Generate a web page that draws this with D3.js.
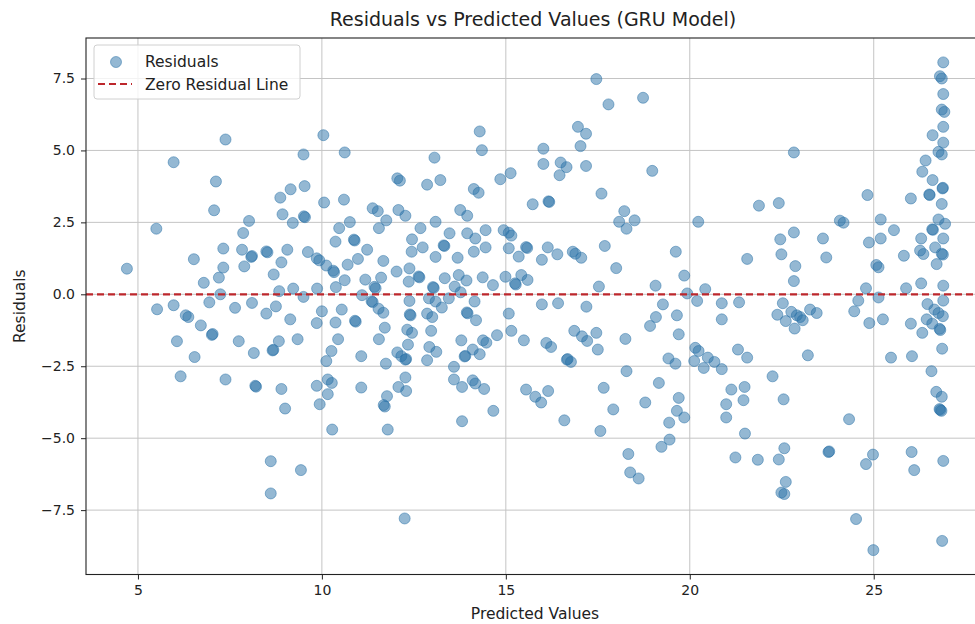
<!DOCTYPE html>
<html>
<head>
<meta charset="utf-8">
<script src="https://cdn.jsdelivr.net/npm/d3@7"></script>
<style>
  body { margin: 0; background: #fff; }
  svg { display: block; font-family: "DejaVu Sans", sans-serif; }
</style>
</head>
<body>
<svg id="chart"></svg>
<script>
// predicted values (x) and residuals (y)
const predicted = [
  4.70,5.50,5.97,7.38,7.12,7.07,6.52,7.32,7.32,7.20,6.79,7.24,8.02,7.86,7.83,8.08,8.10,7.89,8.49,8.52,
  9.06,8.90,8.69,8.84,9.22,8.87,8.93,9.15,9.21,9.50,9.53,9.51,9.54,10.04,10.62,10.06,10.60,10.76,10.47,10.37,
  10.87,10.89,11.23,10.98,10.70,9.62,9.86,9.93,10.12,10.31,10.33,10.62,10.38,9.87,9.50,11.18,11.43,11.46,11.61,11.67,
  11.55,11.38,11.52,11.75,11.09,
  5.52,5.97,6.30,6.37,6.71,6.94,7.01,7.03,6.06,6.54,6.16,7.64,8.10,7.74,8.15,7.38,8.19,8.21,8.49,8.75,
  9.14,8.83,8.66,8.68,9.34,8.90,9.00,8.61,9.43,8.61,10.00,9.86,10.37,10.54,10.44,10.26,10.12,10.90,10.92,11.07,
  9.86,10.16,10.27,10.16,9.94,10.28,11.07,11.35,11.38,11.54,11.67,11.71,11.55,11.74,11.68,11.71,11.77,11.79,
  17.46,17.79,18.73,16.96,17.18,17.03,14.29,14.35,13.06,16.02,16.02,16.49,16.65,16.46,17.18,18.98,15.13,14.85,12.05,12.12,
  12.86,13.22,14.13,14.26,17.60,15.73,16.16,16.18,18.22,18.08,18.50,18.28,12.08,12.27,13.09,13.76,13.95,12.68,12.45,12.74,
  12.44,13.09,13.31,13.33,13.47,13.95,14.17,14.45,14.45,14.13,13.69,14.94,15.08,15.15,15.08,15.35,15.55,15.58,16.14,15.98,
  16.40,16.82,16.89,17.05,17.69,18.00,19.62,19.85,19.07,17.53,12.03,12.38,12.63,12.65,12.36,13.02,13.04,13.34,13.72,13.93,
  13.61,13.77,14.37,14.65,14.99,15.25,15.27,15.42,15.59,12.91,13.09,13.45,12.38,14.15,15.98,16.42,17.19,19.27,
  13.26,12.39,12.41,12.86,13.00,13.94,13.96,14.19,15.08,15.15,15.49,12.32,12.45,12.97,12.34,12.92,13.11,12.05,12.16,12.27,
  12.29,12.86,13.79,13.88,13.90,14.10,14.29,14.38,14.47,14.76,13.59,13.59,13.81,14.10,14.17,14.41,14.66,13.81,12.27,12.08,
  12.29,12.25,15.55,15.80,15.96,16.15,16.59,16.10,16.23,16.66,16.68,16.77,16.86,17.07,17.21,17.46,17.50,17.66,17.92,17.57,
  18.25,18.28,18.79,19.16,18.33,18.38,18.61,18.92,19.08,19.65,19.70,19.42,19.61,19.70,19.65,19.44,19.45,19.23,19.85,
  20.23,19.93,20.42,20.20,20.87,21.34,21.56,21.88,22.42,22.83,22.46,22.83,22.49,22.87,22.83,22.53,23.62,23.71,24.08,24.18,
  24.83,24.87,24.79,24.58,25.19,25.19,25.55,25.07,25.13,25.13,25.82,25.88,26.01,26.29,26.26,26.35,26.29,26.46,
  26.89,26.80,26.85,26.89,26.85,26.92,26.89,26.60,26.89,26.76,26.85,26.41,26.32,26.60,26.87,26.88,26.51,26.52,26.85,26.76,
  26.94,26.59,26.61,26.89,26.67,26.85,26.88,26.71,26.89,26.89,
  20.87,22.38,22.76,22.91,23.00,23.07,22.61,22.85,23.27,23.45,23.21,24.47,24.88,25.25,26.01,26.65,26.76,26.88,26.44,26.59,
  26.79,26.81,26.32,26.86,25.47,26.04,26.57,26.70,26.85,26.79,26.81,26.84,20.15,20.24,20.12,20.38,20.49,20.67,20.87,21.31,
  21.56,22.25,21.13,21.49,21.46,20.99,20.99,22.55,21.50,24.33,21.24,21.85,22.42,22.57,23.77,23.79,22.61,22.49,22.57,24.98,
  24.79,24.52,24.99,26.03,26.10,26.89,26.86
];
const residuals = [
  0.89,2.28,4.59,5.38,3.92,2.92,1.22,1.59,0.93,0.58,0.40,0.00,2.55,2.13,1.55,1.30,1.33,0.97,1.49,1.46,
  1.55,1.11,0.69,0.11,0.20,3.36,2.78,3.65,2.48,4.86,3.76,2.71,2.68,5.53,4.93,3.19,3.29,2.51,2.30,1.83,
  1.90,1.87,1.55,1.23,1.03,1.47,1.25,1.18,1.00,0.82,0.77,0.49,0.25,0.20,-0.09,0.51,0.26,0.21,0.58,1.16,
  2.30,2.99,2.89,2.57,-0.03,
  -0.52,-0.38,-0.73,-0.79,-1.08,-0.28,-1.41,-1.38,-1.63,-2.18,-2.85,-0.47,-0.30,-1.63,-2.04,-2.96,-3.18,-3.21,-0.67,-0.42,
  -0.87,-1.63,-1.95,-1.93,-1.56,-3.29,-3.97,-5.80,-6.11,-6.92,-0.59,-1.00,-0.98,-0.53,-1.56,-1.97,-2.32,-0.92,-0.95,-2.15,
  -3.18,-2.96,-3.08,-3.47,-3.82,-4.70,-3.24,-0.24,-0.27,-0.50,-0.64,-1.16,-1.56,-2.41,-3.85,-3.90,-3.54,-4.70,
  7.48,6.60,6.83,5.82,5.58,5.15,5.66,5.01,4.75,5.06,4.53,4.58,4.42,4.14,4.46,4.29,4.21,4.00,4.03,3.95,
  3.81,3.97,3.66,3.53,3.50,3.13,3.23,3.21,2.89,2.52,2.57,2.28,2.93,2.73,2.52,2.93,2.73,2.30,1.91,1.63,
  1.48,1.30,1.70,1.68,2.12,2.12,1.94,2.23,1.63,1.48,1.27,2.23,2.14,2.04,1.60,1.31,1.64,1.61,1.63,1.20,
  1.39,1.48,1.41,1.27,1.68,0.91,1.48,0.65,0.30,0.27,0.79,0.90,0.62,0.59,0.44,0.25,0.22,0.56,0.67,0.48,
  0.27,0.07,0.59,0.32,0.61,0.38,0.34,0.67,0.50,-0.14,-0.25,-0.14,-0.23,-0.25,-0.35,-0.31,-0.43,-0.35,
  -0.46,-0.70,-0.73,-0.67,-0.79,-0.63,-0.66,-0.90,-0.67,-1.27,-1.60,-1.23,-1.34,-1.27,-1.75,-1.83,-2.00,-2.02,-2.15,-2.27,
  -2.25,-2.29,-1.60,-2.16,-2.14,-1.92,-2.08,-1.60,-1.68,-1.42,-2.52,-2.96,-3.22,-2.99,-3.10,-3.29,-4.05,-4.41,-2.89,-3.22,
  -3.36,-7.79,-3.31,-3.56,-3.76,-3.36,-4.38,-1.69,-1.83,-2.27,-2.25,-2.35,-1.27,-1.46,-1.62,-1.34,-1.92,-3.25,-4.00,-4.75,
  -1.55,-2.67,-3.76,-3.08,-5.55,-6.19,-6.40,-1.10,-0.79,-0.73,-1.39,-2.23,-2.41,-3.60,-4.05,-4.46,-5.05,-5.30,-4.28,
  2.52,0.03,0.18,-0.23,-0.31,-0.28,1.23,3.08,3.17,4.93,1.91,2.15,1.39,0.98,0.46,-0.31,1.94,1.28,2.56,2.49,
  3.45,1.80,0.21,-0.22,2.60,1.94,2.23,1.02,0.94,-0.11,1.34,0.21,3.33,1.94,1.52,1.40,0.38,-0.34,
  8.06,7.58,7.50,6.96,6.42,6.34,5.82,5.53,5.27,4.95,4.86,4.65,4.26,3.97,3.68,3.70,3.47,3.45,3.14,2.60,
  2.45,2.26,2.24,1.94,1.63,1.41,1.38,1.05,0.30,-0.22,
  -0.87,-0.71,-0.61,-0.73,-0.79,-0.90,-0.93,-1.19,-0.53,-0.65,-2.12,-0.59,-1.00,-0.87,-1.02,-0.53,-0.65,-0.76,-0.87,-1.02,
  -1.20,-1.24,-1.34,-1.89,-2.20,-2.15,-2.67,-3.39,-3.56,-3.99,-4.02,-4.05,-1.86,-1.97,-2.32,-2.56,-2.20,-2.35,-2.60,-1.92,
  -2.20,-2.85,-3.31,-3.22,-3.68,-3.82,-4.28,-3.65,-4.84,-4.34,-5.67,-5.75,-5.74,-5.35,-5.48,-5.46,-6.52,-6.89,-6.94,-5.57,
  -5.90,-7.81,-8.89,-5.48,-6.11,-5.79,-8.57
];
const xTicks = [5, 10, 15, 20, 25];
const yTicks = [-7.5, -5.0, -2.5, 0.0, 2.5, 5.0, 7.5];
const legendLabels = ["Residuals", "Zero Residual Line"];

const W = 975, H = 624;
const MARGIN = {TOP: 38, BOTTOM: 49.5, LEFT: 86, RIGHT: -11};
const POINT = "#2a72a8";
const ZERO = "#bd272c";

const data = predicted.map((p, i) => ({p: p, r: residuals[i]}));

const svg = d3.select("#chart").attr("width", W).attr("height", H);

// matplotlib style 5% padding on both axes
function padded(vals){
  const [lo, hi] = d3.extent(vals);
  const m = (hi - lo) * 0.05;
  return [lo - m, hi + m];
}

const x = d3.scaleLinear().domain(padded(predicted)).range([MARGIN.LEFT, W - MARGIN.RIGHT]);
const y = d3.scaleLinear().domain(padded(residuals)).range([H - MARGIN.BOTTOM, MARGIN.TOP]);

const plotW = W - MARGIN.RIGHT - MARGIN.LEFT;
const plotH = H - MARGIN.BOTTOM - MARGIN.TOP;

// grid
const grid = svg.append("g").attr("stroke", "#c4c4c4").attr("stroke-width", 1);
grid.selectAll(".gx").data(xTicks).join("line")
  .attr("x1", d => x(d)).attr("x2", d => x(d))
  .attr("y1", MARGIN.TOP).attr("y2", H - MARGIN.BOTTOM);
grid.selectAll(".gy").data(yTicks).join("line")
  .attr("x1", MARGIN.LEFT).attr("x2", W - MARGIN.RIGHT)
  .attr("y1", d => y(d)).attr("y2", d => y(d));

// points
svg.append("g").selectAll("circle")
  .data(data)
  .join("circle")
  .attr("cx", d => x(d.p))
  .attr("cy", d => y(d.r))
  .attr("r", 5.5)
  .attr("fill", POINT)
  .attr("fill-opacity", 0.5)
  .attr("stroke", POINT)
  .attr("stroke-opacity", 0.5)
  .attr("stroke-width", 1);

// zero residual line
svg.append("line")
  .attr("x1", MARGIN.LEFT).attr("x2", W - MARGIN.RIGHT)
  .attr("y1", y(0)).attr("y2", y(0))
  .attr("stroke", ZERO)
  .attr("stroke-width", 2.2)
  .attr("stroke-dasharray", "7,4");

// frame
svg.append("rect")
  .attr("x", MARGIN.LEFT).attr("y", MARGIN.TOP)
  .attr("width", plotW).attr("height", plotH)
  .attr("fill", "none").attr("stroke", "#222").attr("stroke-width", 1.1);

// axes
const xAxis = svg.append("g")
  .attr("transform", "translate(0," + (H - MARGIN.BOTTOM) + ")")
  .call(d3.axisBottom(x).tickValues(xTicks).tickSize(5).tickPadding(6).tickFormat(d3.format("d")));
const yAxis = svg.append("g")
  .attr("transform", "translate(" + MARGIN.LEFT + ",0)")
  .call(d3.axisLeft(y).tickValues(yTicks).tickSize(5).tickPadding(6).tickFormat(d3.format(".1f")));
[xAxis, yAxis].forEach(a => {
  a.select(".domain").remove();
  a.selectAll(".tick line").attr("stroke", "#222");
  a.selectAll(".tick text").attr("fill", "#222").style("font-size", "14px").style("font-family", "DejaVu Sans");
});

// labels
svg.append("text")
  .attr("x", MARGIN.LEFT + plotW / 2 - 3).attr("y", 26)
  .attr("text-anchor", "middle").attr("fill", "#222")
  .style("font-size", "19px")
  .text("Residuals vs Predicted Values (GRU Model)");
svg.append("text")
  .attr("x", MARGIN.LEFT + plotW / 2 - 1).attr("y", 619)
  .attr("text-anchor", "middle").attr("fill", "#222")
  .style("font-size", "15.5px")
  .text("Predicted Values");
svg.append("text")
  .attr("transform", "translate(25," + (MARGIN.TOP + plotH / 2) + ") rotate(-90)")
  .attr("text-anchor", "middle").attr("fill", "#222")
  .style("font-size", "15.5px")
  .text("Residuals");

// legend
const lg = svg.append("g").attr("transform", "translate(94,45)");
lg.append("rect")
  .attr("width", 206).attr("height", 54).attr("rx", 3)
  .attr("fill", "#fff").attr("fill-opacity", 0.8)
  .attr("stroke", "#d0d0d0");
lg.append("circle")
  .attr("cx", 22).attr("cy", 17).attr("r", 5.5)
  .attr("fill", POINT).attr("fill-opacity", 0.5)
  .attr("stroke", POINT).attr("stroke-opacity", 0.5);
lg.append("line")
  .attr("x1", 4).attr("x2", 38).attr("y1", 39).attr("y2", 39)
  .attr("stroke", ZERO).attr("stroke-width", 2.2).attr("stroke-dasharray", "7,4");
lg.selectAll("text.lbl").data(legendLabels).join("text")
  .attr("class", "lbl")
  .attr("x", 51).attr("y", (d, i) => 22 + i * 23)
  .attr("fill", "#222")
  .style("font-size", "15.5px")
  .text(d => d);
</script>
</body>
</html>
